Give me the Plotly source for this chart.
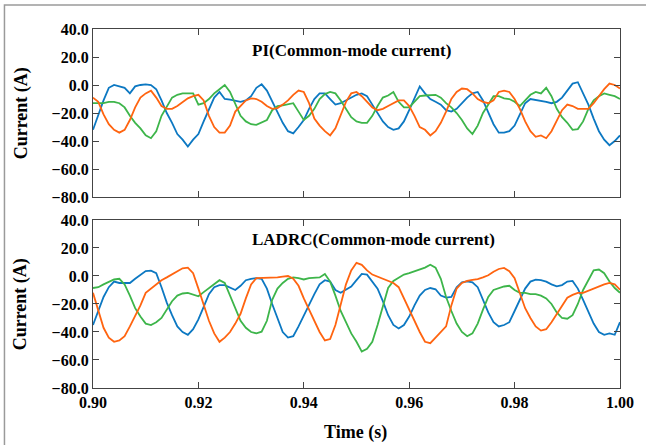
import numpy as np
import plotly.graph_objects as go
from plotly.subplots import make_subplots

# time axis (s): 0.900 ... 1.000 in 1 ms steps
time_s = [round(0.900 + i * 0.001, 3) for i in range(101)]

# ---- PI (common-mode current), values in A ----
pi_blue = [-32, -21, -11, -2, 0, -1, -2, -6, -1, 0, 0.5, 0, -3, -11, -20, -27, -35, -39, -44, -39,
           -35, -26, -18, -9, -5, -10, -10.5, -11, -12, -11, -8, -2, 0.5, -4, -12, -19, -27, -33, -34.5, -30,
           -25, -17, -10, -6, -6, -10, -14, -13, -11, -9, -7, -6, -8, -14, -20, -26, -30, -32, -31, -26,
           -18, -10, -1, -6, -10, -12, -14, -18, -19, -17, -13, -9, -6, -5, -11, -20, -28, -34, -34, -33,
           -29, -21, -13, -10, -10.5, -11, -12, -13, -12, -9, -4, 1, 2, -6, -14, -24, -33, -39, -43, -40, -36]
pi_orange = [-9, -12, -21, -28, -32, -34, -32, -25, -16, -9, -6, -4, -9, -15, -17, -17, -15, -12, -9.5, -8,
             -7, -11, -22, -30, -34, -34, -29, -19, -15, -11, -9.5, -10, -12, -15, -17, -16.5, -14, -11, -7, -4,
             -5, -13, -24, -29, -33, -36, -31, -21, -12, -6, -5, -8, -12, -16, -18, -17, -15, -13, -11, -11,
             -15, -22, -30, -32, -36, -33, -27, -19, -10, -5, -2.5, -3, -6, -10, -12, -13, -11, -5, -4, -5,
             -10, -17, -26, -33, -37, -36, -38, -33, -25, -18, -14, -15, -17, -17, -17, -13, -8, -3, 1, 0, -2.5]
pi_green = [-13, -13, -13, -12, -12, -13, -16, -22, -27, -31, -36, -38, -33, -22, -15, -9, -7, -6, -6, -6,
            -14, -13, -10, -6, -3, 0, -5, -14, -22, -26, -28, -28.5, -27, -25, -18, -15, -14.5, -14, -13, -19,
            -25, -22, -17, -10, -6.5, -5, -6, -11, -17, -23, -26, -27, -27, -22, -15, -9, -7.5, -5, -12, -16,
            -16, -12, -8, -7.5, -7, -7, -9, -13, -16, -20, -25, -31, -35, -29, -20, -14, -8, -8, -9.5, -10,
            -12, -15, -11, -7, -5, -6, -2, -8, -17, -23, -27, -32, -31.5, -26, -17, -11, -8, -6, -7, -8, -10]

# ---- LADRC (common-mode current), values in A ----
ladrc_blue = [-35, -25, -15, -8, -4, -5, -5, -5, -2, 1, 3.5, 3.8, 2, -8, -19, -28, -36, -40, -42, -38,
              -31, -22, -13, -8, -6.5, -6.5, -8.5, -10, -7, -3, -2, -1.5, -2, -9, -20, -30, -40, -44, -43, -36,
              -28, -20, -13, -6, -3, -4, -10, -12, -10, -7.5, -3, 1.5, 1, -4, -9, -18, -28, -35, -37.5, -35,
              -29, -21, -14, -10, -8.6, -9.5, -14, -15.5, -15, -8, -4.5, -3.8, -4.5, -8, -17, -26, -33, -36, -35, -33,
              -25, -17, -9, -4, -2.6, -3, -4, -6, -7.4, -6.5, -4, -3.5, -9, -17, -25, -34, -40, -42, -41, -42, -33]
ladrc_orange = [-12, -25, -37, -44, -47, -46, -43, -36, -29, -21, -12, -9, -6, -3, -1, 1, 3, 5.5, 6, 2,
                -9, -21, -32, -41, -47, -44, -40, -34, -27, -16, -6, -1.5, -1.5, -1.5, -1.5, -1, -0.5, 0, -2, -7,
                -16, -24, -32, -40, -46, -45, -35, -20, -6, 4, 9.4, 8, 4, 1, -0.5, -2, -4, -5, -8, -16,
                -25, -33, -40, -47, -48, -44, -40, -36, -21, -9, -5, -3.5, -2.8, -2.2, -1, 0.5, 3, 5, 5.8, 3.4,
                -1.5, -13, -23, -30, -36, -39, -38, -33, -27, -22, -15.5, -13.5, -12, -12, -10.5, -8.5, -7, -6, -5, -6, -9.8]
ladrc_green = [-8.6, -8, -6, -4, -2.5, -2, -6, -14, -23, -29, -34, -35, -33, -30, -24, -18, -14, -12.5, -12, -13,
               -14.5, -11.5, -8.5, -6, -3, -5, -14, -24, -32, -37, -40, -41, -39.8, -32, -17, -9, -5, -2, -1, -1.5,
               -2.5, -1.5, -1.4, -1, 1.5, -4, -14, -25, -33, -41, -47, -54, -52, -47, -35, -22, -8.6, -3.5, -1, 1,
               2, 3.4, 4.5, 6, 8, 6, -2, -15, -25, -34, -40, -43, -41, -34, -24, -15, -10, -8.5, -7.5, -7,
               -10, -12, -12, -13, -13, -14, -16, -20, -26, -30, -30.5, -28, -20, -10, -3, 4, 4.6, 2, -4, -8.6, -12]

y_ticks = [-80, -60, -40, -20, 0, 20, 40]
x_ticks = [0.90, 0.92, 0.94, 0.96, 0.98, 1.00]
panel_titles = ["PI(Common-mode current)", "LADRC(Common-mode current)"]

BLUE, ORANGE, GREEN = "#0C78C2", "#FF6410", "#3DB54A"
FONT = "Liberation Serif"

fig = make_subplots(rows=2, cols=1, vertical_spacing=0.064)

for row, (b, o, g) in enumerate([(pi_blue, pi_orange, pi_green),
                                  (ladrc_blue, ladrc_orange, ladrc_green)], start=1):
    for ys, col in [(b, BLUE), (g, GREEN), (o, ORANGE)]:
        fig.add_trace(go.Scatter(x=time_s, y=ys, mode="lines",
                                 line=dict(color=col, width=1.8),
                                 showlegend=False, hoverinfo="skip"), row=row, col=1)

axis_common = dict(showline=True, linecolor="#444", linewidth=1.2, mirror="ticks",
                   ticks="inside", ticklen=6, tickcolor="#444", tickwidth=1.2,
                   showgrid=False, zeroline=False,
                   tickfont=dict(family=FONT, size=16, color="black"))

for row in (1, 2):
    fig.update_xaxes(range=[0.90, 1.00], tickvals=x_ticks, tickformat=".2f",
                     showticklabels=(row == 2), row=row, col=1, **axis_common)
    fig.update_yaxes(range=[-80, 40], tickvals=y_ticks, tickformat=".1f",
                     row=row, col=1, **axis_common)

fig.update_layout(
    width=646, height=445,
    margin=dict(l=93, r=17, t=29, b=57),
    paper_bgcolor="white", plot_bgcolor="white",
    font=dict(family=FONT, color="black"),
)

fig.layout.yaxis.domain = [0.532, 1.0]
fig.layout.yaxis2.domain = [0.0, 0.468]

ann = []
ann.append(dict(text="<b>" + panel_titles[0] + "</b>", x=0.297, y=0.939, xref="paper", yref="paper",
                xanchor="left", yanchor="middle", showarrow=False, font=dict(family=FONT, size=17)))
ann.append(dict(text="<b>" + panel_titles[1] + "</b>", x=0.297, y=0.415, xref="paper", yref="paper",
                xanchor="left", yanchor="middle", showarrow=False, font=dict(family=FONT, size=17)))
for yc in (0.766, 0.234):
    ann.append(dict(text="<b>Current (A)</b>", x=-0.136, y=yc, xref="paper", yref="paper",
                    xanchor="center", yanchor="middle", textangle=-90, showarrow=False,
                    font=dict(family=FONT, size=18)))
ann.append(dict(text="<b>Time (s)</b>", x=0.498, y=-0.1226, xref="paper", yref="paper",
                xanchor="center", yanchor="middle", showarrow=False, font=dict(family=FONT, size=18)))
fig.update_layout(annotations=ann)

# bold tick labels
for ax in (fig.layout.xaxis, fig.layout.xaxis2, fig.layout.yaxis, fig.layout.yaxis2):
    ax.tickfont.weight = "bold"

# light frame around the figure (left and top edges)
fig.add_shape(type="path", xref="paper", yref="paper",
              path="M -0.168 -0.2 L -0.168 1.067 L 1.05 1.067",
              line=dict(color="#9a9a9a", width=1.5))

fig.write_html("out.html")
